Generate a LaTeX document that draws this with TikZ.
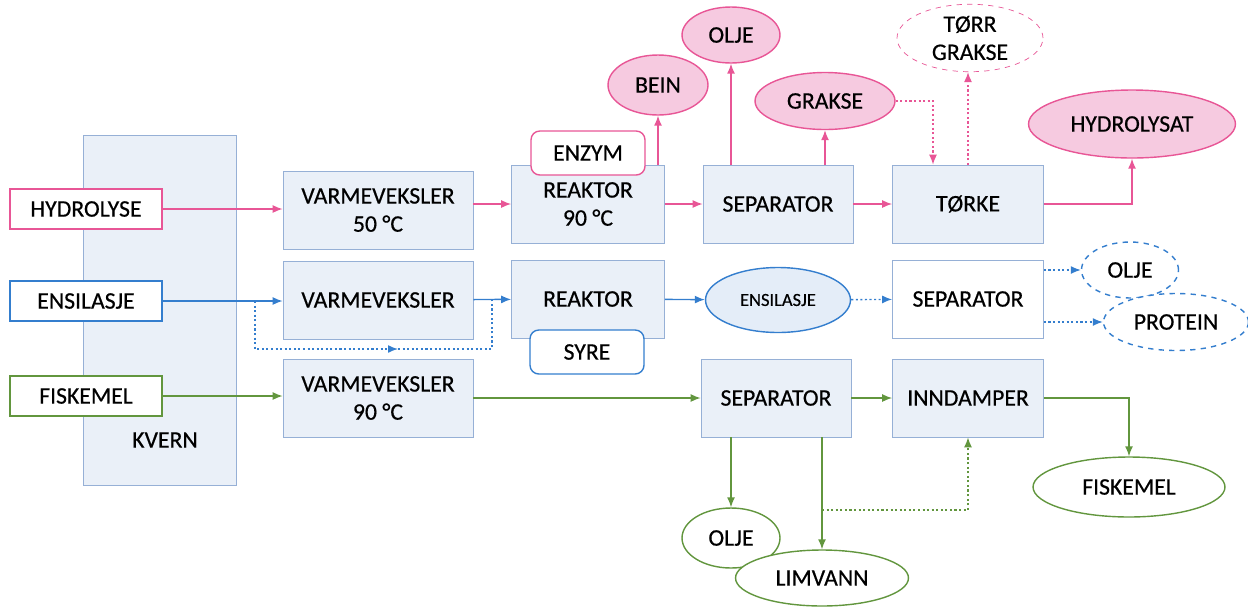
\documentclass[tikz,border=0pt]{standalone}
\usepackage{fontspec}
\setmainfont{Carlito}[FakeBold=0.5]
\usetikzlibrary{shapes.geometric, arrows.meta, positioning, calc}

\definecolor{hydpink}{RGB}{232,86,150}
\definecolor{hydfill}{RGB}{246,202,224}
\definecolor{ensblue}{RGB}{52,126,206}
\definecolor{ensfill}{RGB}{228,237,248}
\definecolor{fiskgreen}{RGB}{98,150,62}
\definecolor{boxline}{RGB}{150,176,214}
\definecolor{boxfill}{RGB}{234,240,248}

\begin{document}
\begin{tikzpicture}[
        x=0.02cm, y=-0.02cm,
        font=\fontsize{13.5}{16}\selectfont,
        unit/.style={rectangle, draw=boxline, fill=boxfill, minimum width=3.8cm, minimum height=1.56cm, align=center, inner sep=2pt},
        source/.style={rectangle, draw=#1, fill=white, thick, minimum width=3.04cm, minimum height=0.8cm},
        additive/.style={rectangle, rounded corners=5pt, draw=#1, fill=white, thick, minimum width=2.28cm, minimum height=0.88cm},
        product/.style={ellipse, draw=#1, thick, fill=white, inner sep=1pt, align=center},
        arrow/.style={-{Latex[length=2mm,width=1.6mm]}, thick, draw=#1},
        dotarrow/.style={arrow=#1, dash pattern=on 1.2pt off 1.4pt}
    ]
        \useasboundingbox (0,0) rectangle (1248,606);

        % kvern
        \node[unit, minimum width=3.06cm, minimum height=7cm, anchor=north west] (kvern) at (83,135) {};
        \node (kvern-text) at (165,440) {KVERN};

        % raw material
        \node[source=hydpink] (hydrolyse) at (86,209) {HYDROLYSE};
        \node[source=ensblue] (ensilasje) at (86,301) {ENSILASJE};
        \node[source=fiskgreen] (fiskemel) at (86,396) {FISKEMEL};

        % process units
        \node[unit] (varme1) at (378,210) {VARMEVEKSLER\\50 °C};
        \node[unit] (varme2) at (378,300) {VARMEVEKSLER};
        \node[unit] (varme3) at (378,398) {VARMEVEKSLER\\90 °C};
        \node[unit, minimum width=3.06cm] (reaktor1) at (588,204) {REAKTOR\\90 °C};
        \node[unit, minimum width=3.06cm] (reaktor2) at (588,299) {REAKTOR};
        \node[unit, minimum width=3cm] (sep1) at (778,204) {SEPARATOR};
        \node[unit, minimum width=3cm] (sep3) at (776,398) {SEPARATOR};
        \node[unit, minimum width=3.02cm, fill=white] (sep2) at (968,299) {SEPARATOR};
        \node[unit, minimum width=3.02cm] (torke) at (968,204) {TØRKE};
        \node[unit, minimum width=3.02cm] (inndamper) at (968,398) {INNDAMPER};

        % additives
        \node[additive=hydpink] (enzym) at (588,153) {ENZYM};
        \node[additive=ensblue] (syre) at (587,352) {SYRE};

        % products
        \node[product=hydpink, fill=hydfill, minimum width=2cm, minimum height=1.2cm] (bein) at (658,85) {BEIN};
        \node[product=hydpink, fill=hydfill, minimum width=1.96cm, minimum height=1.12cm] (olje1) at (731,35) {OLJE};
        \node[product=hydpink, fill=hydfill, minimum width=2.8cm, minimum height=1.14cm] (grakse) at (825,101) {GRAKSE};
        \node[product=hydpink, dashed, thin, minimum width=2.92cm, minimum height=1.26cm] (torrgrakse) at (970,38) {TØRR\\GRAKSE};
        \node[product=hydpink, fill=hydfill, minimum width=4.14cm, minimum height=1.36cm] (hydrolysat) at (1132,124) {HYDROLYSAT};
        \node[product=ensblue, fill=ensfill, minimum width=2.9cm, minimum height=1.3cm, font=\fontsize{10.5}{12}\selectfont] (ensprod) at (778,300) {ENSILASJE};
        \node[product=ensblue, dashed, minimum width=1.94cm, minimum height=1.12cm] (olje2) at (1130,270) {OLJE};
        \node[product=ensblue, dashed, minimum width=2.9cm, minimum height=1.14cm] (protein) at (1176,322) {PROTEIN};
        \node[product=fiskgreen, minimum width=1.96cm, minimum height=1.2cm] (olje3) at (731,538) {OLJE};
        \node[product=fiskgreen, minimum width=3.46cm, minimum height=1.12cm] (limvann) at (822,578) {LIMVANN};
        \node[product=fiskgreen, minimum width=3.84cm, minimum height=1.2cm] (fiskprod) at (1129,487) {FISKEMEL};

        % hydrolyse line
        \draw[arrow=hydpink] (hydrolyse) -- (hydrolyse -| varme1.west);
        \draw[arrow=hydpink] (varme1.east |- reaktor1) -- (reaktor1);
        \draw[arrow=hydpink] (reaktor1) -- (sep1);
        \draw[arrow=hydpink] (sep1) -- (torke);
        \draw[arrow=hydpink] (torke) -| (hydrolysat);
        \draw[arrow=hydpink] (reaktor1.north -| bein) -- (bein);
        \draw[arrow=hydpink] (sep1.north -| olje1) -- (olje1);
        \draw[arrow=hydpink] (sep1.north -| grakse) -- (grakse);
        \draw[dotarrow=hydpink] (grakse) -| ([xshift=-0.7cm]torke.north);
        \draw[dotarrow=hydpink] (torke.north) -- (torke.north |- torrgrakse.south);

        % ensilasje line
        \coordinate (split) at (255,301);
        \coordinate (bymid) at (398,349);
        \coordinate (join) at (492,300);
        \draw[arrow=ensblue] (ensilasje) -- (ensilasje -| varme2.west);
        \draw[arrow=ensblue] (varme2) -- (reaktor2);
        \draw[dotarrow=ensblue] (split) |- (bymid);
        \draw[ensblue, thick, dash pattern=on 1.2pt off 1.4pt] (bymid) -| (join);
        \draw[arrow=ensblue] (reaktor2) -- (ensprod);
        \draw[dotarrow=ensblue] (ensprod) -- (sep2);
        \draw[dotarrow=ensblue] (sep2.east |- olje2) -- (olje2);
        \draw[dotarrow=ensblue] (sep2.east |- protein) -- (protein);

        % fiskemel line
        \coordinate (recycle) at (822,510);
        \draw[arrow=fiskgreen] (fiskemel) -- (fiskemel -| varme3.west);
        \draw[arrow=fiskgreen] (varme3) -- (sep3);
        \draw[arrow=fiskgreen] (sep3) -- (inndamper);
        \draw[arrow=fiskgreen] (inndamper) -| (fiskprod);
        \draw[arrow=fiskgreen] (sep3.south -| olje3) -- (olje3);
        \draw[arrow=fiskgreen] (sep3.south -| limvann) -- (limvann);
        \draw[dotarrow=fiskgreen] (recycle) -| (inndamper.south);
\end{tikzpicture}
\end{document}
